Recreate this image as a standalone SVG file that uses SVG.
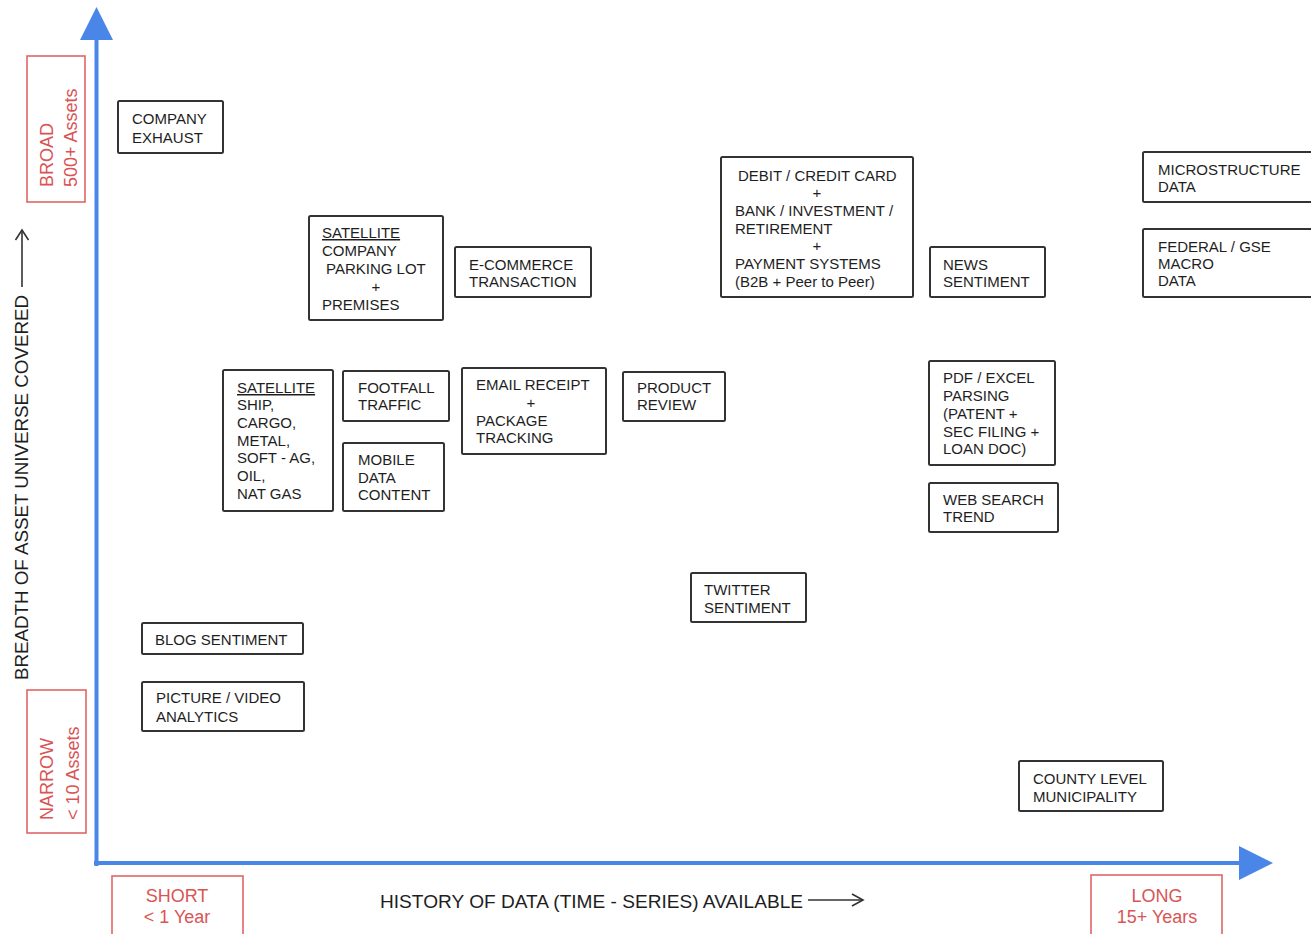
<svg xmlns="http://www.w3.org/2000/svg" width="1311" height="934" viewBox="0 0 1311 934">
<style>
text{font-family:"Liberation Sans",Arial,sans-serif;}
.node rect{fill:#fff;stroke:#333;stroke-width:2;}
.node text{font-size:15px;fill:#1e1e1e;}
.mid{text-anchor:middle;}
.u{text-decoration:underline;}
.red rect{fill:none;stroke:#e06666;stroke-width:1.6;}
.red text{font-size:18px;fill:#d95555;}
.axis{stroke:#4a86e8;stroke-width:4;fill:none;}
.axhead{fill:#4a86e8;}
.lbl{font-size:18.7px;fill:#1e1e1e;}
.larrow{stroke:#333;stroke-width:1.6;fill:none;}
</style>
<rect width="1311" height="934" fill="#fff"/>
<g id="axes">
<line class="axis" x1="96.5" y1="38" x2="96.5" y2="866"/>
<polygon class="axhead" points="80,40 96.5,7 113,40"/>
<line class="axis" x1="94" y1="863" x2="1241" y2="863"/>
<polygon class="axhead" points="1239,846 1273,863 1239,880"/>
</g>
<g id="axis-labels">
<text class="lbl" transform="translate(28,680) rotate(-90)" textLength="385" lengthAdjust="spacingAndGlyphs">BREADTH OF ASSET UNIVERSE COVERED</text>
<text class="lbl" x="380" y="908" textLength="423" lengthAdjust="spacingAndGlyphs">HISTORY OF DATA (TIME - SERIES) AVAILABLE</text>
</g>
<g id="connectors">
<line class="larrow" x1="22" y1="287" x2="22" y2="231"/>
<polyline class="larrow" points="15.5,240 22,230 28.5,240"/>
<line class="larrow" x1="808" y1="900" x2="862" y2="900"/>
<polyline class="larrow" points="852,894 863,900 852,906"/>
</g>
<g id="broad" class="red">
<rect x="27" y="56" width="58" height="146"/>
<text transform="translate(53,187) rotate(-90)">BROAD</text>
<text transform="translate(77,187) rotate(-90)">500+ Assets</text>
</g>
<g id="narrow" class="red">
<rect x="27" y="690" width="59" height="143"/>
<text transform="translate(53,820) rotate(-90)">NARROW</text>
<text transform="translate(79,820) rotate(-90)">&lt; 10 Assets</text>
</g>
<g id="short" class="red">
<rect x="112" y="876" width="131" height="70"/>
<text class="mid" x="177" y="902">SHORT</text>
<text class="mid" x="177" y="923">&lt; 1 Year</text>
</g>
<g id="long" class="red">
<rect x="1091" y="875" width="131" height="70"/>
<text class="mid" x="1157" y="902">LONG</text>
<text class="mid" x="1157" y="923">15+ Years</text>
</g>
<g id="company-exhaust" class="node">
<rect x="118" y="101" width="105" height="52" rx="1.5"/>
<text x="132" y="124">COMPANY</text>
<text x="132" y="143">EXHAUST</text>
</g>
<g id="satellite-parking" class="node">
<rect x="309" y="216" width="134" height="104" rx="1.5"/>
<text class="u" x="322" y="238">SATELLITE</text>
<text x="322" y="256">COMPANY</text>
<text x="326" y="274">PARKING LOT</text>
<text class="mid" x="376" y="292">+</text>
<text x="322" y="310">PREMISES</text>
</g>
<g id="ecommerce" class="node">
<rect x="455" y="247" width="136" height="50" rx="1.5"/>
<text x="469" y="270">E-COMMERCE</text>
<text x="469" y="287">TRANSACTION</text>
</g>
<g id="debit-credit" class="node">
<rect x="721" y="157" width="192" height="140" rx="1.5"/>
<text x="738" y="181">DEBIT / CREDIT CARD</text>
<text class="mid" x="817" y="198">+</text>
<text x="735" y="216">BANK / INVESTMENT /</text>
<text x="735" y="234">RETIREMENT</text>
<text class="mid" x="817" y="251">+</text>
<text x="735" y="269">PAYMENT SYSTEMS</text>
<text x="735" y="287">(B2B + Peer to Peer)</text>
</g>
<g id="news-sentiment" class="node">
<rect x="930" y="247" width="115" height="50" rx="1.5"/>
<text x="943" y="270">NEWS</text>
<text x="943" y="287">SENTIMENT</text>
</g>
<g id="microstructure" class="node">
<rect x="1143" y="152" width="180" height="50" rx="1.5"/>
<text x="1158" y="175">MICROSTRUCTURE</text>
<text x="1158" y="192">DATA</text>
</g>
<g id="federal-macro" class="node">
<rect x="1143" y="229" width="180" height="68" rx="1.5"/>
<text x="1158" y="252">FEDERAL / GSE</text>
<text x="1158" y="269">MACRO</text>
<text x="1158" y="286">DATA</text>
</g>
<g id="satellite-ship" class="node">
<rect x="223" y="370" width="110" height="141" rx="1.5"/>
<text class="u" x="237" y="393">SATELLITE</text>
<text x="237" y="410">SHIP,</text>
<text x="237" y="428">CARGO,</text>
<text x="237" y="446">METAL,</text>
<text x="237" y="463">SOFT - AG,</text>
<text x="237" y="481">OIL,</text>
<text x="237" y="499">NAT GAS</text>
</g>
<g id="footfall" class="node">
<rect x="343" y="371" width="106" height="50" rx="1.5"/>
<text x="358" y="393">FOOTFALL</text>
<text x="358" y="410">TRAFFIC</text>
</g>
<g id="mobile-data" class="node">
<rect x="343" y="443" width="101" height="68" rx="1.5"/>
<text x="358" y="465">MOBILE</text>
<text x="358" y="483">DATA</text>
<text x="358" y="500">CONTENT</text>
</g>
<g id="email-receipt" class="node">
<rect x="462" y="368" width="144" height="86" rx="1.5"/>
<text x="476" y="390">EMAIL RECEIPT</text>
<text class="mid" x="531" y="408">+</text>
<text x="476" y="426">PACKAGE</text>
<text x="476" y="443">TRACKING</text>
</g>
<g id="product-review" class="node">
<rect x="623" y="372" width="102" height="49" rx="1.5"/>
<text x="637" y="393">PRODUCT</text>
<text x="637" y="410">REVIEW</text>
</g>
<g id="pdf-excel" class="node">
<rect x="929" y="361" width="126" height="104" rx="1.5"/>
<text x="943" y="383">PDF / EXCEL</text>
<text x="943" y="401">PARSING</text>
<text x="943" y="419">(PATENT +</text>
<text x="943" y="437">SEC FILING +</text>
<text x="943" y="454">LOAN DOC)</text>
</g>
<g id="web-search" class="node">
<rect x="929" y="483" width="129" height="49" rx="1.5"/>
<text x="943" y="505">WEB SEARCH</text>
<text x="943" y="522">TREND</text>
</g>
<g id="twitter" class="node">
<rect x="691" y="573" width="115" height="49" rx="1.5"/>
<text x="704" y="595">TWITTER</text>
<text x="704" y="613">SENTIMENT</text>
</g>
<g id="blog" class="node">
<rect x="142" y="623" width="161" height="31" rx="1.5"/>
<text x="155" y="645">BLOG SENTIMENT</text>
</g>
<g id="picture-video" class="node">
<rect x="142" y="682" width="162" height="49" rx="1.5"/>
<text x="156" y="703">PICTURE / VIDEO</text>
<text x="156" y="722">ANALYTICS</text>
</g>
<g id="county" class="node">
<rect x="1019" y="761" width="144" height="50" rx="1.5"/>
<text x="1033" y="784">COUNTY LEVEL</text>
<text x="1033" y="802">MUNICIPALITY</text>
</g>
</svg>
